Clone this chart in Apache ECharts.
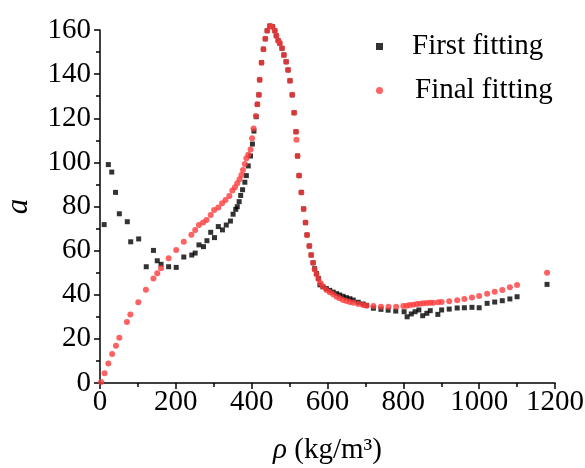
<!DOCTYPE html>
<html>
<head>
<meta charset="utf-8">
<script src="https://cdn.jsdelivr.net/npm/echarts@6/dist/echarts.min.js"></script>
<style>html,body{margin:0;padding:0;background:#fff}#c{width:585px;height:468px}</style>
</head>
<body>
<div id="c"></div>
<script>
var seriesNames = ['First fitting', 'Final fitting'];
var xTicks = [0, 200, 400, 600, 800, 1000, 1200];
var yTicks = [0, 20, 40, 60, 80, 100, 120, 140, 160];

var firstX = [11,22,31,41,51,72,81,102,122,141,151,161,181,201,221,242,251,261,273,282,292,302,312,323,333,344,351,358,362,367,371,376,382,386,391,397,402,406,412,415,419,421,426,431,436,441,448,455,461,465,470,474,480,485,491,496,501,507,512,517,521,525,531,537,542,546,552,557,562,566,571,576,580,588,597,606,615,624,632,641,650,659,668,681,694,703,721,741,760,780,802,810,821,831,841,851,862,871,891,901,921,942,961,981,1000,1021,1041,1061,1081,1100,1179];
var firstY = [71.8,99,95.6,86.4,76.7,73.1,64,65.3,52.7,60.1,55.4,53.8,52.7,52.4,57.1,58,58.9,62.6,61.8,64.5,68.3,65.9,70.9,69.4,71.6,73.4,76.5,78.7,79.9,82.2,85,87.6,91,94,98.4,102.9,108.3,114.2,120.7,126.3,130.6,137.4,145.2,151.3,156,159.7,161.8,161.5,159.7,157.4,155.2,154,151.7,148.7,145.6,141.9,137,130.6,122.5,113.9,102.9,94,86.4,78.9,72.7,67.1,62.1,58,54.5,51.8,49.6,47.4,44.5,43.6,42.8,42,41.2,40.5,39.9,39.3,38.7,38.2,37.6,36.6,35.8,35.2,33.9,33.4,33,32.6,32.3,30,31.3,32.3,33.1,30.5,31.6,32.8,31.1,33.1,33.5,34,34.1,34.3,34.1,36.1,36.7,37.3,38.1,39.1,44.7];

var finalX = [3,12,22,32,42,51,71,80,101,121,141,151,161,181,201,221,241,251,261,272,281,292,301,312,322,331,341,349,356,362,368,373,377,382,386,391,397,401,405,411,415,419,421,426,431,436,441,448,455,461,465,470,474,480,485,491,496,501,507,512,517,518,521,525,531,537,542,546,552,557,562,566,571,576,582,588,597,606,615,624,632,641,650,659,668,681,694,703,721,741,761,781,800,809,817,826,835,844,853,862,871,879,892,901,921,942,961,981,1000,1021,1041,1061,1081,1100,1179];
var finalY = [0.5,4.4,8.8,13.1,16.9,20.5,27.7,31,36.6,42.3,47.4,49.7,52,56.5,60.3,64,67.2,69.4,71.6,72.8,73.9,76.2,78.4,79.6,81.5,83,84.8,87.2,88.7,90.5,92.3,94.3,96.6,99.3,101.9,103.5,105.8,110.9,115.4,121,126.3,130.6,137.4,145.2,151.3,156,159.7,161.8,161.5,159.7,157.4,155.2,154,151.7,148.7,145.6,141.9,137,130.6,122.5,113.9,110.2,102.9,94,86.4,78.9,72.7,67.1,62.1,58,54.5,51.5,49.3,47.1,45.2,43.7,42.2,41.1,40.2,39.1,38.4,37.6,37.2,36.7,36.4,35.8,35.4,35,34.9,34.6,34.6,34.6,34.9,35,35.4,35.5,35.8,35.9,36.1,36.3,36.4,36.4,36.6,36.7,37,37.5,38.1,38.7,39.4,40.5,41.4,42.2,43.4,44.4,50];

function zip(xs, ys){ return xs.map(function(x,i){ return [x, ys[i]]; }); }

var FONT = 'Liberation Serif';
var FS = 29;
var chart = echarts.init(document.getElementById('c'), null, {renderer:'canvas'});
var axisCommon = {
  axisLine: {show:true, onZero:false, lineStyle:{color:'#000', width:1.5}},
  axisTick: {show:true, inside:false, length:6, lineStyle:{color:'#000', width:1.5}},
  minorTick: {show:true, splitNumber:2, length:4, lineStyle:{color:'#000', width:1.5}},
  splitLine: {show:false}
};
chart.setOption({
  animation:false,
  backgroundColor:'#fff',
  grid:{left:100, right:30, top:30, bottom:85, containLabel:false, outerBoundsMode:'none'},
  legend:[
    {data:[seriesNames[0]], left:371, top:27, itemWidth:7, itemHeight:7, itemGap:0,
     textStyle:{color:'#000', fontFamily:FONT, fontSize:FS, padding:[0,0,0,24]}},
    {data:[seriesNames[1]], left:371, top:71, itemWidth:7, itemHeight:7, itemGap:0,
     textStyle:{color:'#000', fontFamily:FONT, fontSize:FS, padding:[0,0,0,27]}}
  ],
  xAxis: Object.assign({}, axisCommon, {
    type:'value', min:xTicks[0], max:xTicks[xTicks.length-1], interval:200,
    name:'{i|ρ} (kg/m³)', nameLocation:'middle', nameGap:53,
    nameTextStyle:{color:'#000', fontFamily:FONT, fontSize:FS, rich:{i:{fontStyle:'italic', fontFamily:FONT, fontSize:FS}}},
    axisLabel:{color:'#000', fontFamily:FONT, fontSize:FS, margin:5, formatter:function(v){ return String(v); }}
  }),
  yAxis: Object.assign({}, axisCommon, {
    type:'value', min:yTicks[0], max:yTicks[yTicks.length-1], interval:20,
    name:'a', nameLocation:'middle', nameGap:66, nameRotate:90,
    nameTextStyle:{color:'#000', fontFamily:FONT, fontSize:31, fontStyle:'italic'},
    axisLabel:{color:'#000', fontFamily:FONT, fontSize:FS, margin:9, formatter:function(v){ return String(v); }}
  }),
  series:[
    {name:seriesNames[0], type:'scatter', symbol:'rect', symbolSize:5, clip:false,
     itemStyle:{color:'#000'}, data:zip(firstX, firstY), z:2},
    {name:seriesNames[1], type:'scatter', symbol:'circle', symbolSize:6, clip:false,
     itemStyle:{color:'#ff3b3b'}, data:zip(finalX, finalY), z:3}
  ]
});
</script>
</body>
</html>
